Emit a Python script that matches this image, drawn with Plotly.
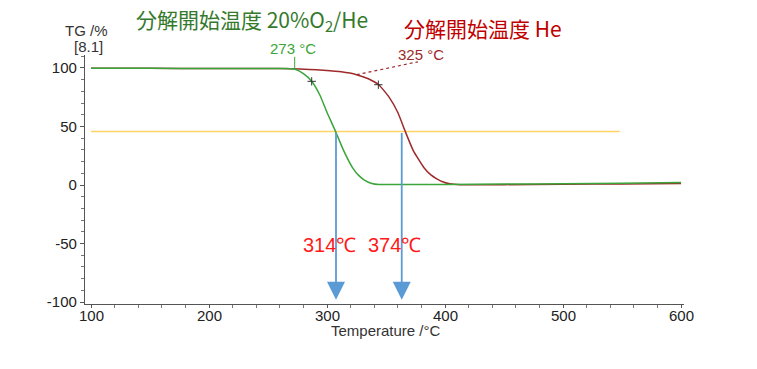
import plotly.graph_objects as go

# --- data ---
t_o2he = [100, 150, 200, 250, 266, 273, 280, 287, 294, 300, 307, 314, 322, 327, 332, 338, 344, 360, 400, 450, 500, 550, 600]
tg_o2he = [99.7, 99.7, 99.6, 99.6, 99.5, 98.9, 95.1, 88.6, 76.7, 62.0, 46.3, 29.6, 14.2, 8.0, 4.0, 1.3, 0.4, 0.4, 0.5, 0.8, 1.1, 1.6, 2.2]

t_he = [100, 150, 200, 250, 269, 285, 297, 312, 325, 335, 344, 353, 360, 366, 373, 382, 388, 393, 399, 404, 413, 450, 500, 550, 600]
tg_he = [99.7, 99.7, 99.6, 99.5, 99.4, 98.8, 98.0, 96.7, 94.3, 90.8, 85.5, 74.5, 62.0, 46.5, 29.6, 15.0, 8.6, 5.2, 2.3, 1.0, 0.3, 0.3, 0.6, 0.9, 1.2]

marker_t = [287, 343.5]
marker_tg = [88.6, 85.7]

ref_level = 45.7
ref_line_t = [100, 548]
arrow_t = [307.6, 363.3]
arrow_labels = ["314℃", "374℃"]
arrow_end = -98

onset_labels = ["273 °C", "325 °C"]
onset_t = [272.6, 325.2]

x_ticks = [100, 200, 300, 400, 500, 600]
x_ticktext = ["100", "200", "300", "400", "500", "600"]
y_ticks = [-100, -50, 0, 50, 100]
y_ticktext = ["-100", "-50", "0", "50", "100"]

GREEN = "#3aa53a"
RED = "#9e2a2b"
BLUE = "#5b9bd5"
LATIN = "Liberation Sans, Arial, sans-serif"
CJK = "Noto Sans CJK JP, sans-serif"

W, H = 757, 369
ML, MR, MT, MB = 85, 73, 55, 65
PL, PR, PT, PB = ML, W - MR, MT, H - MB
XR = [94.9, 602.5]
YR = [-101.7, 111.1]


def px2paper(px, py):
    return (px - PL) / (PR - PL), 1 - (py - PT) / (PB - PT)


def data2paper(x, y):
    return (x - XR[0]) / (XR[1] - XR[0]), (y - YR[0]) / (YR[1] - YR[0])


fig = go.Figure()

fig.add_trace(go.Scatter(x=ref_line_t, y=[ref_level, ref_level], mode="lines",
                         line=dict(color="#ffd466", width=1.6), hoverinfo="skip"))
fig.add_trace(go.Scatter(x=t_he, y=tg_he, mode="lines",
                         line=dict(color=RED, width=1.5, shape="spline", smoothing=0.5)))
fig.add_trace(go.Scatter(x=t_o2he, y=tg_o2he, mode="lines",
                         line=dict(color=GREEN, width=1.5, shape="spline", smoothing=0.5)))
fig.add_trace(go.Scatter(x=marker_t, y=marker_tg, mode="markers",
                         marker=dict(symbol="cross-thin", size=6, line=dict(color="#333333", width=1))))

shapes = [
    dict(type="line", xref="x", yref="y", x0=onset_t[0], x1=onset_t[0], y0=99, y1=109.5,
         line=dict(color=GREEN, width=1)),
    dict(type="line", xref="x", yref="y", x0=onset_t[1], x1=377, y0=94.3, y1=105.3,
         line=dict(color=RED, width=1.2, dash="dot")),
]

annotations = []
for t in arrow_t:
    annotations.append(dict(x=t, y=arrow_end, ax=t, ay=ref_level, xref="x", yref="y", axref="x", ayref="y",
                            showarrow=True, arrowhead=2, arrowsize=2.0, arrowwidth=1.8, arrowcolor=BLUE, text=""))
for t, lab in zip(arrow_t, arrow_labels):
    annotations.append(dict(x=t, y=-51, xref="x", yref="y", text=lab, showarrow=False,
                            xshift=-7, font=dict(family=LATIN, size=20, color="#ff1a1a")))

# onset labels (above the plot area, so in paper coordinates)
for (tx, ty), lab, col, dx in [((onset_t[0], 116.5), onset_labels[0], GREEN, -2),
                               ((379.5, 111.5), onset_labels[1], RED, 0)]:
    x, y = data2paper(tx, ty)
    annotations.append(dict(x=x, y=y, xref="paper", yref="paper", text=lab, showarrow=False, xshift=dx,
                            xanchor="center", yanchor="middle", font=dict(family=LATIN, size=15, color=col)))

# x tick labels placed close to the axis as in the reference
_, tick_y = px2paper(0, 315)
for v, lab in zip(x_ticks, x_ticktext):
    x, _ = data2paper(v, 0)
    annotations.append(dict(x=x, y=tick_y, xref="paper", yref="paper", text=lab, showarrow=False,
                            xanchor="center", yanchor="middle", font=dict(family=LATIN, size=15, color="#222222")))

pixel_texts = [
    ("分解開始温度 20%O<sub>2</sub>/He", 252, 20, "#357a2c", 21, CJK),
    ("分解開始温度 He", 483, 28, "#c00000", 21, CJK),
    ("TG /%", 86, 30, "#333333", 15, LATIN),
    ("[8.1]", 88, 46, "#333333", 15, LATIN),
    ("Temperature /°C", 386, 330, "#333333", 15, LATIN),
]
for text, px, py, col, size, fam in pixel_texts:
    x, y = px2paper(px, py)
    annotations.append(dict(text=text, x=x, y=y, xref="paper", yref="paper", xanchor="center",
                            yanchor="middle", showarrow=False, font=dict(family=fam, size=size, color=col)))

fig.update_layout(
    width=W, height=H,
    margin=dict(l=ML, r=MR, t=MT, b=MB, autoexpand=False),
    paper_bgcolor="white", plot_bgcolor="white",
    showlegend=False,
    font=dict(family=LATIN, size=15, color="#222222"),
    shapes=shapes,
    annotations=annotations,
    xaxis=dict(range=XR, tickvals=x_ticks, showticklabels=False, showline=True, linecolor="#555555",
               linewidth=1.2, ticks="outside", ticklen=3, tickcolor="#555555", showgrid=False, zeroline=False,
               minor=dict(dtick=20, ticks="outside", ticklen=2.5, tickcolor="#777777"),
               automargin=False),
    yaxis=dict(range=YR, tickvals=y_ticks, ticktext=y_ticktext, showline=True,
               linecolor="#555555", linewidth=1.2,
               ticks="outside", ticklen=4, tickcolor="#555555", showgrid=False, zeroline=False,
               minor=dict(dtick=10, ticks="outside", ticklen=2.5, tickcolor="#777777"),
               tickfont=dict(size=15), automargin=False),
)

fig.write_html("out.html", config={"displayModeBar": False},
               post_script="document.body.style.margin='0px';")
